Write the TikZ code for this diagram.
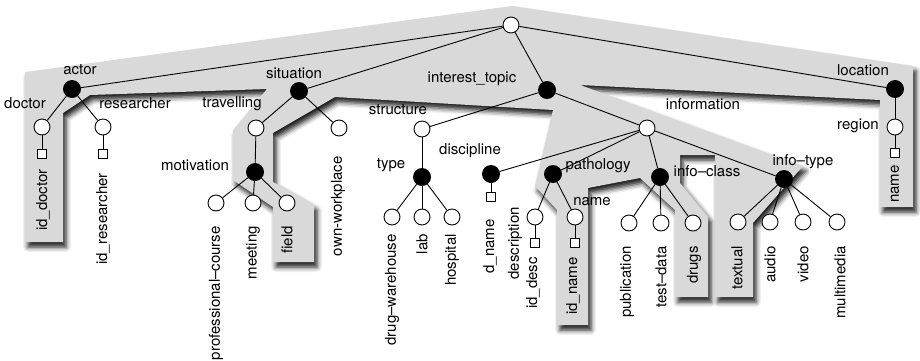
\documentclass[tikz,border=0pt]{standalone}
\usepackage{fontspec}
\setmainfont{TeX Gyre Heros}
\usetikzlibrary{shadows.blur}
\definecolor{bandgray}{RGB}{217,217,217}

\begin{document}
\begin{tikzpicture}[x=1pt, y=-1pt,
    every node/.style={font=\fontsize{15}{17}\selectfont, inner sep=1pt},
    open/.style={draw, circle, fill=white, line width=0.9pt, minimum size=16pt, inner sep=0pt},
    full/.style={draw, circle, fill=black, line width=0.9pt, minimum size=17pt, inner sep=0pt},
    keybox/.style={draw, rectangle, fill=white, line width=0.9pt, minimum size=9pt, inner sep=0pt},
    leaf/.style={rotate=90, anchor=east},
    link/.style={line width=0.9pt}]
  \useasboundingbox (0,0) rectangle (920,360);
  % the selected part of the schema
  \fill[bandgray, blur shadow={shadow xshift=3pt, shadow yshift=-5pt, shadow blur radius=5pt, shadow opacity=90}]
    (25,72) -- (512,6) -- (913,66) -- (913,207) -- (880,207) -- (880,100) -- (580,85)
    -- (803,166) -- (753,223) -- (753,297) -- (715,297) -- (715,155) -- (680,155)
    -- (680,183) -- (708,217) -- (708,297) -- (675,297) -- (675,210) -- (640,178)
    -- (588,188) -- (588,325) -- (557,325) -- (557,210) -- (535,186) -- (553,110)
    -- (335,97) -- (273,133) -- (273,182) -- (314,205) -- (314,262) -- (273,262)
    -- (273,207) -- (233,180) -- (233,130) -- (267,89) -- (90,95) -- (63,113)
    -- (63,242) -- (25,242) -- cycle;
  % the tree
  \node[open] (root) at (511,25) {};
  \node[full] (actor) at (72,89) {};
  \node[open] (doctor) at (42,127) {};
  \node[keybox] (doctorkey) at (42,154) {};
  \node[open] (researcher) at (103,127) {};
  \node[keybox] (researcherkey) at (103,154) {};
  \node[full] (situation) at (299,91) {};
  \node[open] (travelling) at (256,128) {};
  \node[open] (ownwork) at (339,128) {};
  \node[full] (motivation) at (255,172) {};
  \node[open] (course) at (216,203) {};
  \node[open] (meeting) at (253,203) {};
  \node[open] (field) at (287,203) {};
  \node[full] (topic) at (547,90) {};
  \node[open] (structure) at (422,129) {};
  \node[full] (type) at (422,177) {};
  \node[open] (warehouse) at (392,217) {};
  \node[open] (lab) at (422,217) {};
  \node[open] (hospital) at (452,217) {};
  \node[open] (information) at (647,128) {};
  \node[full] (discipline) at (491,174) {};
  \node[keybox] (disciplinekey) at (491,197) {};
  \node[full] (pathology) at (553,174) {};
  \node[open] (description) at (535,217) {};
  \node[keybox] (desckey) at (535,243) {};
  \node[open] (pname) at (575,217) {};
  \node[keybox] (namekey) at (575,243) {};
  \node[full] (infoclass) at (660,177) {};
  \node[open] (publication) at (629,223) {};
  \node[open] (testdata) at (661,223) {};
  \node[open] (drugs) at (693,223) {};
  \node[full] (infotype) at (784,179) {};
  \node[open] (textual) at (738,222) {};
  \node[open] (audio) at (770,222) {};
  \node[open] (video) at (803,222) {};
  \node[open] (multimedia) at (837,222) {};
  \node[full] (location) at (895,89) {};
  \node[open] (region) at (895,127) {};
  \node[keybox] (regionkey) at (895,153) {};
  \foreach \a/\b in {root/actor, root/situation, root/topic, root/location,
      actor/doctor, actor/researcher, doctor/doctorkey, researcher/researcherkey,
      situation/travelling, situation/ownwork, travelling/motivation,
      motivation/course, motivation/meeting, motivation/field,
      topic/structure, topic/information, structure/type,
      type/warehouse, type/lab, type/hospital,
      information/discipline, information/pathology, information/infoclass, information/infotype,
      discipline/disciplinekey, pathology/description, pathology/pname,
      description/desckey, pname/namekey,
      infoclass/publication, infoclass/testdata, infoclass/drugs,
      infotype/textual, infotype/audio, infotype/video, infotype/multimedia,
      location/region, region/regionkey}
    \draw[link] (\a) -- (\b);
  % names of the inner nodes
  \node (actor-l) at (80,70) {actor};
  \node (doctor-l) at (25,103) {doctor};
  \node (researcher-l) at (135,103) {researcher};
  \node (situation-l) at (294,73) {situation};
  \node (travelling-l) at (232,104) {travelling};
  \node (motivation-l) at (195,165) {motivation};
  \node (structure-l) at (398,110) {structure};
  \node (type-l) at (391,165) {type};
  \node (topic-l) at (472,79) {interest\_topic};
  \node (discipline-l) at (470,151) {discipline};
  \node (pathology-l) at (598,166) {pathology};
  \node (pname-l) at (592,202) {name};
  \node (infoclass-l) at (707,171) {info–class};
  \node (information-l) at (703,104) {information};
  \node (infotype-l) at (803,162) {info–type};
  \node (location-l) at (863,70) {location};
  \node (region-l) at (858,126) {region};
  % names of the leaves
  \node[leaf] (iddoctor-l) at (43,168) {id\_doctor};
  \node[leaf] (idresearcher-l) at (103,172) {id\_researcher};
  \node[leaf] (course-l) at (216,225) {professional–course};
  \node[leaf] (meeting-l) at (253,225) {meeting};
  \node[leaf] (field-l) at (287,225) {field};
  \node[leaf] (ownwork-l) at (338,155) {own-workplace};
  \node[leaf] (warehouse-l) at (392,233) {drug–warehouse};
  \node[leaf] (lab-l) at (422,233) {lab};
  \node[leaf] (hospital-l) at (452,233) {hospital};
  \node[leaf] (dname-l) at (490,218) {d\_name};
  \node[leaf] (description-l) at (515,206) {description};
  \node[leaf] (iddesc-l) at (533,256) {id\_desc};
  \node[leaf] (idname-l) at (573,256) {id\_name};
  \node[leaf] (publication-l) at (627,245) {publication};
  \node[leaf] (testdata-l) at (661,245) {test–data};
  \node[leaf] (drugs-l) at (694,245) {drugs};
  \node[leaf] (textual-l) at (737,245) {textual};
  \node[leaf] (audio-l) at (770,245) {audio};
  \node[leaf] (video-l) at (803,245) {video};
  \node[leaf] (multimedia-l) at (840,245) {multimedia};
  \node[leaf] (regionname-l) at (895,164) {name};
\end{tikzpicture}
\end{document}
